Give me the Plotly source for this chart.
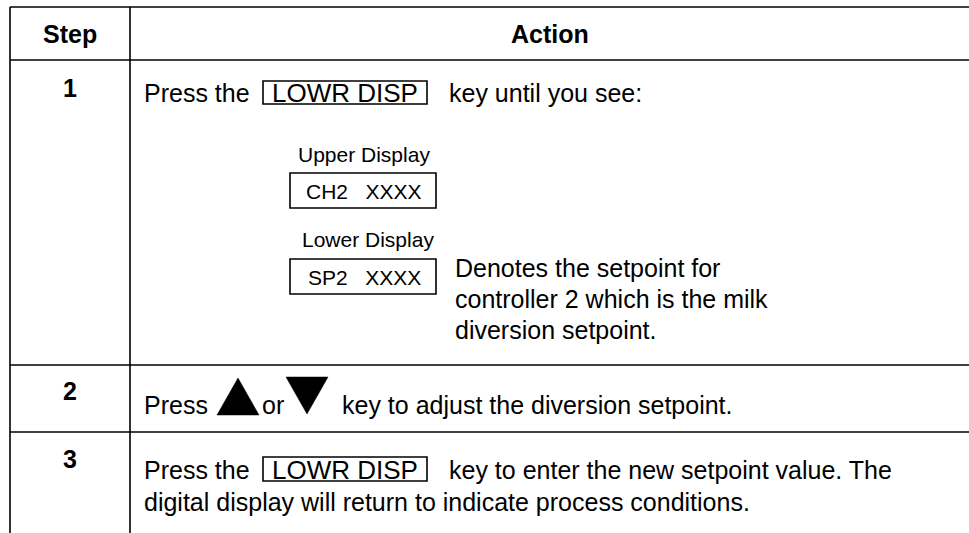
import plotly.graph_objects as go

# ---- content ----
header_labels = ["Step", "Action"]
step_numbers = ["1", "2", "3"]
row1_parts = ["Press the", "LOWR DISP", "key until you see:"]
display_labels = ["Upper Display", "Lower Display"]
display_values = ["CH2\u00a0\u00a0\u00a0XXXX", "SP2\u00a0\u00a0\u00a0XXXX"]
note_lines = ["Denotes the setpoint for", "controller 2 which is the milk", "diversion setpoint."]
row2_parts = ["Press", "or", "key to adjust the diversion setpoint."]
row3_line1 = ["Press the", "LOWR DISP", "key to enter the new setpoint value. The"]
row3_line2 = "digital display will return to indicate process conditions."

W, H = 969, 533
FONT = "Liberation Sans, Arial, Helvetica, sans-serif"
BODY = 25
KEY = 26
SMALL = 21
LW = 1.6

fig = go.Figure()
shapes = []
ann = []

def line(x0, y0, x1, y1, w=LW):
    shapes.append(dict(type="line", x0=x0, y0=y0, x1=x1, y1=y1, xref="x", yref="y",
                       line=dict(color="black", width=w)))

def rect(x0, y0, x1, y1, w=LW):
    shapes.append(dict(type="rect", x0=x0, y0=y0, x1=x1, y1=y1, xref="x", yref="y",
                       line=dict(color="black", width=w), fillcolor="rgba(0,0,0,0)"))

def text(x, y, s, size=BODY, anchor="left", bold=False):
    ann.append(dict(x=x, y=y, xref="x", yref="y", text=f"<b>{s}</b>" if bold else s,
                    showarrow=False, xanchor=anchor, yanchor="middle",
                    font=dict(family=FONT, size=size, color="black")))

# table grid
left, divx, right = 10, 130, W + 5
top, hdr, r1, r2, bottom = 7, 60, 365, 432, H + 5
for y in (top, hdr, r1, r2):
    line(left, y, right, y)
line(left, top, left, bottom)
line(divx, top, divx, bottom)

# header
text(70, 34, header_labels[0], anchor="center", bold=True)
text(550, 34, header_labels[1], anchor="center", bold=True)

# step numbers
for s, y in zip(step_numbers, (88, 391, 459)):
    text(70, y, s, anchor="center", bold=True)

# row 1
tx = 142
text(tx, 93, row1_parts[0])
rect(263, 81, 427, 104)
text(345, 93, row1_parts[1], size=KEY, anchor="center")
text(447, 93, row1_parts[2])

text(364, 154, display_labels[0], size=SMALL, anchor="center")
rect(290, 173, 436, 208)
text(364, 191, display_values[0], size=SMALL, anchor="center")
text(368, 239, display_labels[1], size=SMALL, anchor="center")
rect(290, 259, 436, 294)
text(364, 277, display_values[1], size=SMALL, anchor="center")
for s, y in zip(note_lines, (268, 299, 330)):
    text(453, y, s)

# row 2
text(tx, 405, row2_parts[0])
shapes.append(dict(type="path", path="M 217 415 L 238 378 L 259 415 Z", xref="x", yref="y",
                   fillcolor="black", line=dict(color="black", width=0.5)))
text(260, 405, row2_parts[1])
shapes.append(dict(type="path", path="M 286 377 L 328 377 L 307 414 Z", xref="x", yref="y",
                   fillcolor="black", line=dict(color="black", width=0.5)))
text(340, 405, row2_parts[2])

# row 3
text(tx, 470, row3_line1[0])
rect(263, 457, 427, 481)
text(345, 470, row3_line1[1], size=KEY, anchor="center")
text(447, 470, row3_line1[2])
text(tx, 502, row3_line2)

fig.update_layout(
    width=W, height=H, margin=dict(l=0, r=0, t=0, b=0),
    paper_bgcolor="white", plot_bgcolor="white",
    xaxis=dict(range=[0, W], visible=False, fixedrange=True),
    yaxis=dict(range=[H, 0], visible=False, fixedrange=True),
    shapes=shapes, annotations=ann, showlegend=False,
)
fig.write_html("out.html", config={"displayModeBar": False},
               post_script="document.body.style.margin='0';document.body.style.overflow='hidden';")
